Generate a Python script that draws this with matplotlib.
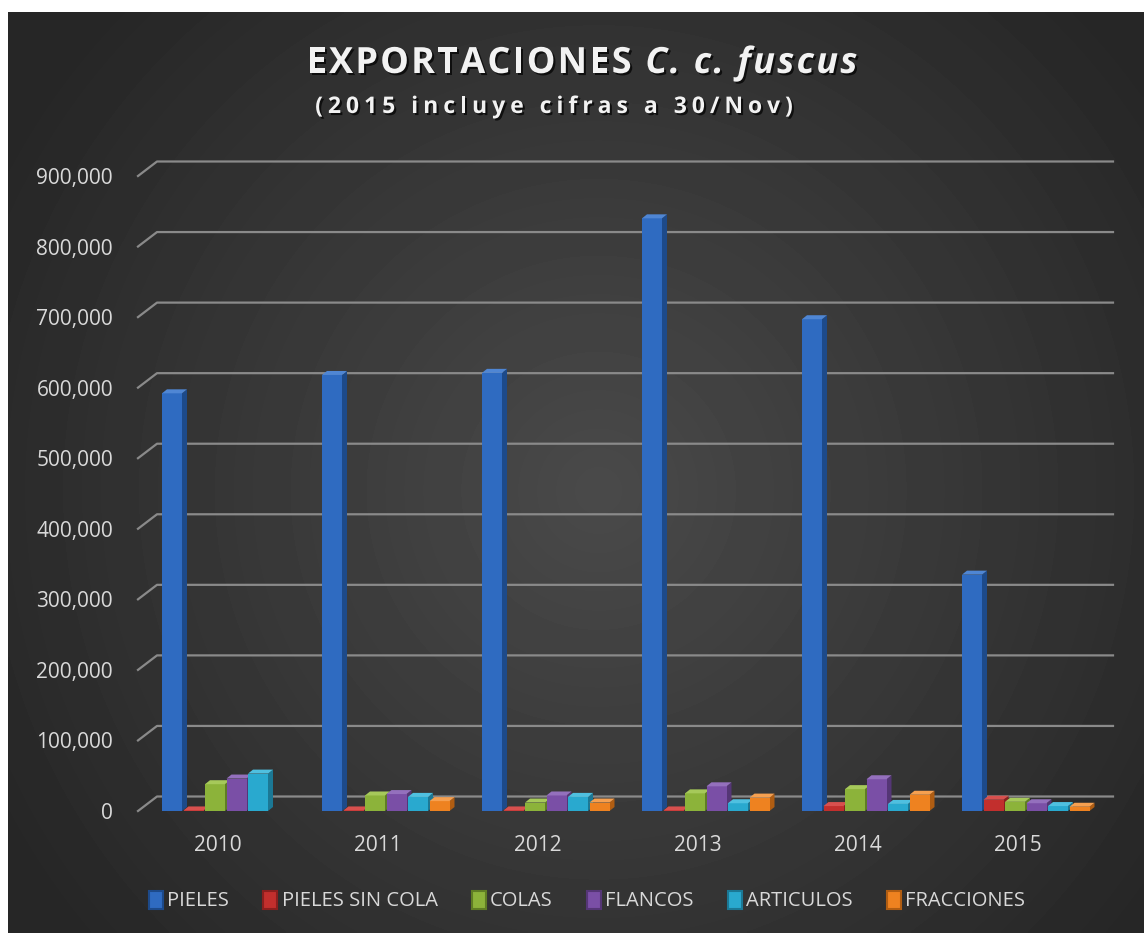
import numpy as np
import matplotlib.pyplot as plt
import matplotlib.patheffects as pe
from matplotlib.patches import Patch
from matplotlib.transforms import blended_transform_factory

plt.rcParams['font.family'] = ['Open Sans', 'DejaVu Sans']

years = ['2010', '2011', '2012', '2013', '2014', '2015']
names = ['PIELES', 'PIELES SIN COLA', 'COLAS', 'FLANCOS', 'ARTICULOS', 'FRACCIONES']
pieles = [592000, 618000, 621000, 840000, 697000, 335000]
pieles_sin_cola = [800, 800, 800, 800, 7000, 16000]
colas = [38000, 22000, 12000, 25000, 31000, 13000]
flancos = [46000, 24000, 22000, 35000, 45000, 11000]
articulos = [53000, 20000, 20000, 11000, 10000, 7000]
fracciones = [0, 14000, 12000, 19000, 23000, 6000]
data = [pieles, pieles_sin_cola, colas, flancos, articulos, fracciones]

front = ['#2f6bc1', '#c22f2d', '#8cb33a', '#7a4fa6', '#29a9cf', '#ee8220']
side = ['#1d4a8a', '#8a1f1e', '#5f7d24', '#553676', '#1b7895', '#b05d12']
top = ['#4f86d4', '#d8504e', '#a6c95a', '#9470bd', '#4fc0e0', '#f6a050']

W, H = 1144, 933
fig = plt.figure(figsize=(W / 100, H / 100), dpi=100)
fig.patch.set_facecolor('white')

# dark radial background
bg = fig.add_axes([8 / W, 0, 1 - 8 / W, 1 - 12 / H])
yy, xx = np.mgrid[0:1:300j, 0:1:360j]
r = np.hypot((xx - 0.52) * 1.25, (yy - 0.52))
g = 0.29 - 0.14 * np.clip(r / 0.75, 0, 1)
bg.imshow(g, cmap='gray', vmin=0, vmax=1, extent=[0, 1, 0, 1],
          aspect='auto', interpolation='bilinear')
bg.axis('off')

ax = fig.add_axes([138 / W, 122 / H, 960 / W, 635 / H])
ax.set_facecolor('none')
for s in ax.spines.values():
    s.set_visible(False)
ymax = 900000
ax.set_ylim(0, ymax)
ax.set_xlim(-0.5, 5.5)

px_x = 1 / 160.0
px_y = ymax / 635.0

# gridlines on the back wall
tr = blended_transform_factory(ax.transAxes, ax.transData)
ticks = list(range(0, ymax + 1, 100000))
for v in ticks:
    ax.plot([0, 19 / 960, 1 + 15 / 960], [v, v + 14.5 * px_y, v + 14.5 * px_y],
            transform=tr, color='#8a8a8a', lw=1.6, clip_on=False, zorder=0)

pitch = 21.5 * px_x
w = 20 * px_x
shift = 7.75 * px_x
dx = 5 * px_x
dy = 4 * px_y

for k, vals in enumerate(data):
    for i, v in enumerate(vals):
        if v <= 0:
            continue
        x0 = i + shift + (k - 2.5) * pitch - w / 2
        z = 2 + k * 0.1
        ax.fill([x0 + w, x0 + w + dx, x0 + w + dx, x0 + w],
                [0, dy, v + dy, v], color=side[k], zorder=z, lw=0)
        ax.bar(x0, v, width=w, align='edge', color=front[k], zorder=z + 0.01, lw=0)
        ax.fill([x0, x0 + dx, x0 + w + dx, x0 + w],
                [v, v + dy, v + dy, v], color=top[k], zorder=z + 0.02, lw=0)

ax.set_yticks(ticks)
ax.set_yticklabels([f'{t:,}' for t in ticks])
ax.set_xticks(range(len(years)))
ax.set_xticklabels(years)
ax.tick_params(axis='y', length=0, pad=18, labelsize=15, labelcolor='#d9d9d9')
ax.tick_params(axis='x', length=0, pad=17, labelsize=15, labelcolor='#d9d9d9')

handles = [Patch(facecolor=front[k], edgecolor=side[k], lw=1.5) for k in range(len(names))]
leg = fig.legend(handles, names, loc='center', bbox_to_anchor=(587 / W, 1 - 901 / H),
                 ncol=6, frameon=False, fontsize=14.5, labelcolor='#d9d9d9',
                 handlelength=0.7, handleheight=1.0, handletextpad=0.2,
                 columnspacing=1.7)

# title, drawn char by char to get the wide letter spacing
shadow = [pe.SimplePatchShadow(offset=(1.5, -1.5), shadow_rgbFace='black', alpha=0.7), pe.Normal()]
rend = fig.canvas.get_renderer()


def spaced(parts, xc, y_base, size, spacing):
    arts = []
    for txt, st in parts:
        for ch in txt:
            t = fig.text(0, 1 - y_base / H, ch, ha='left', va='baseline', fontsize=size,
                         weight='bold', style=st, color='#f2f2f2', path_effects=shadow)
            if ch == ' ':
                a = fig.text(0, 0, 'a a', fontsize=size, weight='bold', style=st)
                b = fig.text(0, 0, 'aa', fontsize=size, weight='bold', style=st)
                cw = a.get_window_extent(rend).width - b.get_window_extent(rend).width
                a.remove()
                b.remove()
            else:
                cw = t.get_window_extent(rend).width
            arts.append((t, cw))
    total = sum(cw for _, cw in arts) + spacing * (len(arts) - 1)
    x = xc - total / 2
    for t, cw in arts:
        t.set_x(x / W)
        x += cw + spacing


spaced([('EXPORTACIONES ', 'normal'), ('C. c. fuscus', 'italic')], 582, 73, 26, 2.2)
spaced([('(2015 incluye cifras a 30/Nov)', 'normal')], 554, 113, 16.5, 5.0)

fig.savefig('out.png', dpi=100)
